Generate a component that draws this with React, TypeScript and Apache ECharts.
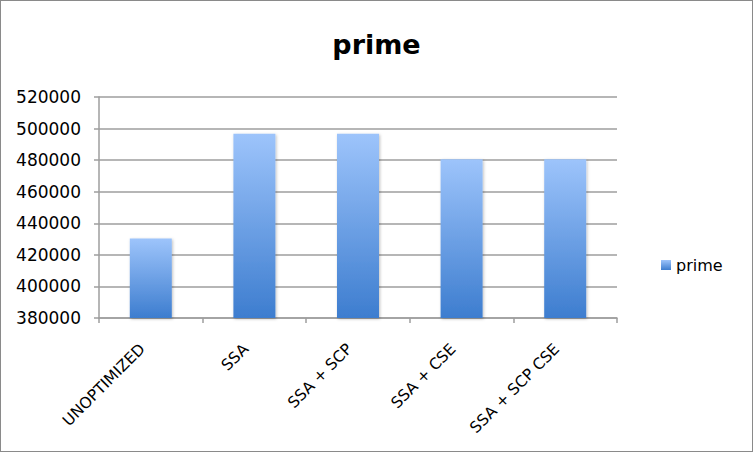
import { useEffect, useRef } from "react";
import * as echarts from "echarts";

const categories = ["UNOPTIMIZED", "SSA", "SSA + SCP", "SSA + CSE", "SSA + SCP CSE"];
const primeValues = [430300, 496700, 496700, 480600, 480600];
const yMin = 380000;
const yMax = 520000;
const yStep = 20000;

const font = "'DejaVu Sans', Verdana, sans-serif";

export default function App() {
  const ref = useRef<HTMLDivElement>(null);

  useEffect(() => {
    if (!ref.current) return;
    const chart = echarts.init(ref.current, undefined, { renderer: "svg" });
    chart.setOption({
      animation: false,
      backgroundColor: "#fff",
      title: {
        text: "prime",
        left: "center",
        top: 25,
        textStyle: { fontFamily: font, fontSize: 27, fontWeight: "bold", color: "#000" },
      },
      legend: {
        data: ["prime"],
        left: 655,
        top: 251,
        icon: "rect",
        itemWidth: 10,
        itemHeight: 10,
        itemGap: 6,
        textStyle: { fontFamily: font, fontSize: 16, color: "#000" },
      },
      grid: { left: 98, right: 135, top: 96, bottom: 133 },
      xAxis: {
        type: "category",
        data: categories,
        axisLine: { lineStyle: { color: "#9e9e9e", width: 1.5 } },
        axisTick: { show: true, length: 5, lineStyle: { color: "#9e9e9e", width: 1.5 } },
        axisLabel: {
          rotate: 45,
          margin: 20,
          interval: 0,
          padding: [0, 12, 0, 0],
          fontFamily: font,
          fontSize: 15.5,
          color: "#000",
        },
      },
      yAxis: {
        type: "value",
        min: yMin,
        max: yMax,
        interval: yStep,
        axisLine: { show: true, lineStyle: { color: "#9e9e9e", width: 1.5 } },
        axisTick: { show: true, length: 5, lineStyle: { color: "#9e9e9e", width: 1.5 } },
        splitLine: { lineStyle: { color: "#9e9e9e", width: 1.5 } },
        axisLabel: {
          margin: 18,
          fontFamily: font,
          fontSize: 17,
          color: "#000",
          formatter: (v: number) => String(v),
        },
      },
      series: [
        {
          name: "prime",
          type: "bar",
          data: primeValues,
          barWidth: 42,
          itemStyle: {
            color: new echarts.graphic.LinearGradient(0, 0, 0, 1, [
              { offset: 0, color: "#9dc4fb" },
              { offset: 1, color: "#3d7dcf" },
            ]),
            shadowBlur: 3,
            shadowColor: "rgba(0,0,0,0.25)",
            shadowOffsetX: 1,
            shadowOffsetY: 1,
          },
        },
      ],
    });
    return () => chart.dispose();
  }, []);

  return (
    <div
      style={{
        position: "fixed",
        left: 0,
        top: 0,
        width: 753,
        height: 452,
        boxSizing: "border-box",
        border: "1px solid #8a8a8a",
        background: "#fff",
      }}
    >
      <div ref={ref} style={{ width: 751, height: 450 }} />
    </div>
  );
}
